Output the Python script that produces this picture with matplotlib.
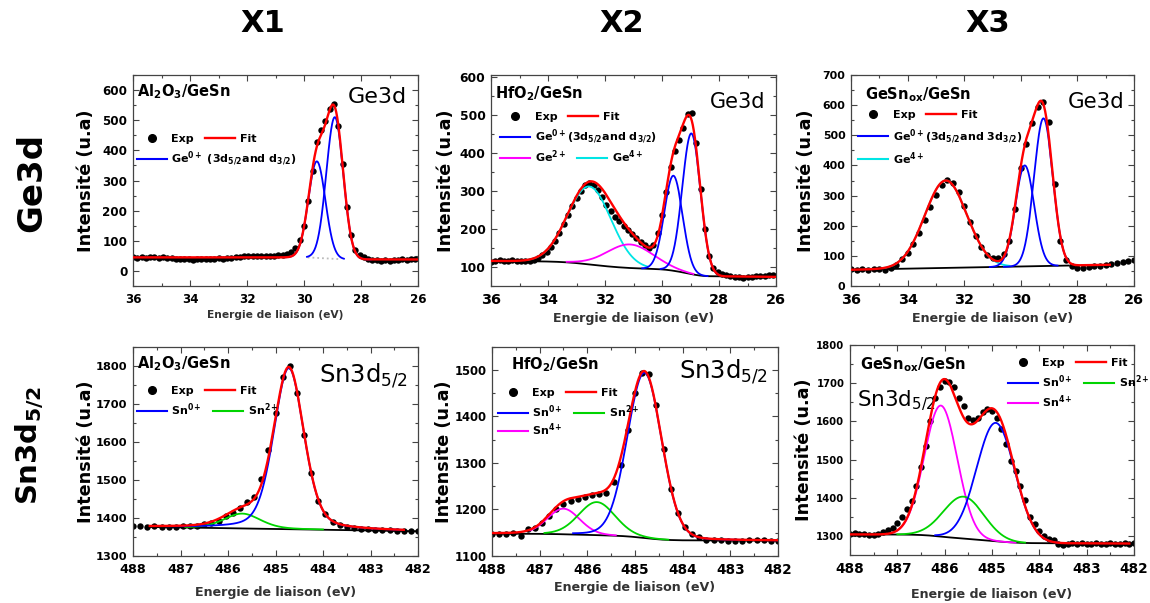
import numpy as np
import matplotlib
matplotlib.use("Agg")
import matplotlib.pyplot as plt
from matplotlib.lines import Line2D
from matplotlib.legend import Legend
from matplotlib.ticker import MultipleLocator

plt.rcParams["font.family"] = "DejaVu Sans"
plt.rcParams["mathtext.fontset"] = "dejavusans"

# ---------------------------------------------------------------------------
# Data
# Exp points: first binding energy, step (towards lower BE), intensities
# Peaks: (species, centre eV, height above background, FWHM eV, drawn from, drawn to)
# Background: (level at high BE, level at low BE, linear share; 0 = Shirley)
# ---------------------------------------------------------------------------

GE_X1_E0, GE_X1_STEP = 36.0, 0.15
GE_X1_EXP = [46, 44, 46, 43, 45, 46, 43, 45, 42, 43, 40, 41, 38, 40, 37, 39, 38,
             40, 39, 41, 42, 41, 44, 43, 45, 47, 48, 50, 49, 51, 50, 49, 51, 50,
             52, 54, 57, 64, 76, 103, 150, 232, 330, 427, 469, 499, 536, 554,
             480, 356, 213, 119, 70, 52, 45, 40, 37, 35, 34, 36, 33, 35, 36, 38,
             37, 39, 40]
GE_X1_PEAKS = [("Ge0+", 29.55, 320, 0.70, 28.6, 30.65),
               ("Ge0+", 28.92, 470, 0.70, 27.65, 29.9)]
GE_X1_BG = (45, 38, 0.0)

GE_X2_E0, GE_X2_STEP = 36.0, 0.15
GE_X2_EXP = [113, 116, 118, 115, 117, 118, 116, 117, 115, 117, 119, 124, 131,
             140, 152, 168, 190, 212, 236, 260, 282, 300, 315, 320, 315, 302,
             285, 262, 246, 232, 220, 208, 197, 186, 176, 167, 158, 150, 158,
             190, 238, 298, 362, 405, 435, 466, 502, 505, 425, 305, 200, 128,
             97, 86, 82, 78, 76, 74, 73, 72, 73, 74, 75, 76, 77, 78, 79]
GE_X2_PEAKS = [("Ge4+", 32.55, 205, 1.80, 30.5, 34.8),
               ("Ge2+", 31.12, 62, 1.90, 28.9, 33.35),
               ("Ge0+", 29.60, 250, 0.75, 28.4, 30.7),
               ("Ge0+", 28.97, 370, 0.75, 28.05, 30.05)]
GE_X2_BG = (116, 74, 0.15)

GE_X3_E0, GE_X3_STEP = 36.0, 0.2
GE_X3_EXP = [55, 53, 56, 52, 55, 58, 54, 60, 70, 88, 108, 138, 176, 218, 262,
             302, 335, 352, 342, 312, 265, 212, 165, 128, 104, 94, 92, 105, 150,
             255, 390, 470, 540, 595, 612, 545, 340, 150, 85, 66, 60, 61, 63,
             66, 68, 70, 73, 76, 79, 82, 85]
GE_X3_PEAKS = [("Ge4+", 32.65, 290, 1.75, 30.4, 34.8),
               ("Ge0+", 29.86, 335, 0.78, 28.7, 31.1),
               ("Ge0+", 29.20, 490, 0.78, 28.3, 30.6)]
GE_X3_BG = (54, 72, 1.0)

SN_X1_E0, SN_X1_STEP = 488.0, 0.15
SN_X1_EXP = [1378, 1378, 1377, 1378, 1376, 1377, 1377, 1378, 1379, 1380, 1383,
             1387, 1393, 1404, 1414, 1427, 1441, 1455, 1503, 1578, 1675, 1770,
             1800, 1728, 1617, 1517, 1445, 1411, 1390, 1381, 1376, 1374, 1371,
             1370, 1369, 1368, 1368, 1367, 1366, 1367, 1366]
SN_X1_PEAKS = [("Sn2+", 485.70, 39, 0.90, 484.0, 486.9),
               ("Sn0+", 484.72, 423, 0.75, 482.3, 487.3)]
SN_X1_BG = (1377, 1365, 1.0)

SN_X2_E0, SN_X2_STEP = 488.0, 0.15
SN_X2_EXP = [1148, 1147, 1148, 1149, 1144, 1158, 1160, 1170, 1185, 1202, 1212,
             1218, 1222, 1227, 1231, 1233, 1236, 1258, 1296, 1370, 1450, 1494,
             1492, 1425, 1330, 1243, 1193, 1163, 1147, 1140, 1135, 1134, 1134,
             1133, 1133, 1133, 1134, 1134, 1135, 1133, 1132]
SN_X2_PEAKS = [("Sn4+", 486.50, 55, 0.80, 485.4, 487.2),
               ("Sn2+", 485.80, 71, 0.90, 484.3, 486.9),
               ("Sn0+", 484.80, 355, 0.85, 482.0, 486.3)]
SN_X2_BG = (1148, 1133, 0.1)

SN_X3_E0, SN_X3_STEP = 488.0, 0.1
SN_X3_EXP = [1306, 1308, 1304, 1305, 1302, 1303, 1306, 1310, 1315, 1322,
             1335, 1350, 1370, 1392, 1430, 1480, 1535, 1600, 1660, 1690,
             1705, 1703, 1690, 1660, 1640, 1610, 1603, 1608, 1625, 1632,
             1628, 1610, 1580, 1540, 1495, 1470, 1430, 1395, 1350, 1330,
             1312, 1300, 1292, 1288, 1280, 1276, 1280, 1282, 1279, 1281,
             1280, 1278, 1282, 1280, 1279, 1281, 1280, 1278, 1282, 1280, 1281]
SN_X3_PEAKS = [("Sn4+", 486.08, 343, 0.82, 484.5, 487.0),
               ("Sn2+", 485.60, 110, 1.00, 484.3, 487.0),
               ("Sn0+", 484.92, 310, 0.95, 483.6, 486.2)]
SN_X3_BG = (1304, 1280, 0.1)

GE_TICKS_X = [36, 34, 32, 30, 28, 26]
SN_TICKS_X = [488, 487, 486, 485, 484, 483, 482]

# ---------------------------------------------------------------------------
# Styling
# ---------------------------------------------------------------------------

COLORS = {"Ge0+": "#0000ff", "Ge2+": "#ff00ff", "Ge4+": "#00e5e5",
          "Sn0+": "#0000ff", "Sn2+": "#00d400", "Sn4+": "#ff00ff"}

GE0_A = r"Ge$^{\mathbf{0+}}$ (3d$_{\mathbf{5/2}}$and d$_{\mathbf{3/2}}$)"
GE0_B = r"Ge$^{\mathbf{0+}}$(3d$_{\mathbf{5/2}}$and d$_{\mathbf{3/2}}$)"
GE0_C = r"Ge$^{\mathbf{0+}}$(3d$_{\mathbf{5/2}}$and 3d$_{\mathbf{3/2}}$)"
SUP = {k: k[:2] + r"$^{\mathbf{" + k[2:] + "}}$" for k in COLORS}

panels = [
    dict(pos=[0.1157, 0.5257, 0.2478, 0.3499], e0=GE_X1_E0, step=GE_X1_STEP,
         exp=GE_X1_EXP, peaks=GE_X1_PEAKS, bg=GE_X1_BG, eta=0.0,
         xlim=(36, 26), ylim=(-50, 650), xt=GE_TICKS_X, ymaj=100, xmin=1,
         fit=(26.0, 36.0), bgr=(28.8, 29.9), bgstyle=dict(color="#bbbbbb", ls=":"),
         title=r"Al$_{\mathbf{2}}$O$_{\mathbf{3}}$/GeSn", tpos=(0.014, 0.92),
         core="Ge3d", cpos=(0.96, 0.897), csize=16, cha="right", cva="center",
         fs=(8.6, 8.6, 7.7), ylx=-0.165, xly=-0.137,
         leg_x=0.014, legs=[(0.697, [("Exp", "Exp"), ("Fit", "Fit")]),
                            (0.602, [("Ge0+", GE0_A)])]),
    dict(pos=[0.427, 0.5257, 0.2478, 0.3499], e0=GE_X2_E0, step=GE_X2_STEP,
         exp=GE_X2_EXP, peaks=GE_X2_PEAKS, bg=GE_X2_BG, eta=0.0,
         xlim=(36, 26), ylim=(50, 605), xt=GE_TICKS_X, ymaj=100, xmin=1,
         fit=(26.0, 36.0), bgr=(26.0, 36.0), bgstyle=dict(color="black", ls="-"),
         title=r"HfO$_{\mathbf{2}}$/GeSn", tpos=(0.014, 0.913),
         core="Ge3d", cpos=(0.961, 0.872), csize=15, cha="right", cva="center",
         fs=(8.9, 10.4, 9.1), ylx=-0.158, xly=-0.152,
         leg_x=0.032, legs=[(0.802, [("Exp", "Exp"), ("Fit", "Fit")]),
                            (0.707, [("Ge0+", GE0_B)]),
                            (0.613, [("Ge2+", SUP["Ge2+"]), ("Ge4+", SUP["Ge4+"])])]),
    dict(pos=[0.74, 0.5257, 0.2461, 0.3499], e0=GE_X3_E0, step=GE_X3_STEP,
         exp=GE_X3_EXP, peaks=GE_X3_PEAKS, bg=GE_X3_BG, eta=0.0,
         xlim=(36, 26), ylim=(0, 700), xt=GE_TICKS_X, ymaj=100, xmin=1,
         fit=(26.85, 36.0), bgr=(28.3, 36.0), bgstyle=dict(color="black", ls="-"),
         title=r"GeSn$_{\mathbf{ox}}$/GeSn", tpos=(0.05, 0.905),
         core="Ge3d", cpos=(0.968, 0.873), csize=15.4, cha="right", cva="center",
         fs=(7.9, 10.4, 9.1), ylx=-0.159, xly=-0.152,
         leg_x=0.025, legs=[(0.81, [("Exp", "Exp"), ("Fit", "Fit")]),
                            (0.708, [("Ge0+", GE0_C)]),
                            (0.605, [("Ge4+", SUP["Ge4+"])])]),
    dict(pos=[0.1157, 0.0779, 0.2478, 0.3474], e0=SN_X1_E0, step=SN_X1_STEP,
         exp=SN_X1_EXP, peaks=SN_X1_PEAKS, bg=SN_X1_BG, eta=0.3,
         xlim=(488, 482), ylim=(1300, 1850), xt=SN_TICKS_X, ymaj=100, xmin=0.5,
         fit=(482.3, 487.65), bgr=(482.05, 487.65), bgstyle=dict(color="black", ls="-"),
         title=r"Al$_{\mathbf{2}}$O$_{\mathbf{3}}$/GeSn", tpos=(0.014, 0.92),
         core=r"Sn3d$_{\mathregular{5/2}}$", cpos=(0.965, 0.83), csize=17.5,
         cha="right", cva="baseline",
         fs=(8.2, 9.2, 9.1), ylx=-0.165, xly=-0.176,
         leg_x=0.014, legs=[(0.79, [("Exp", "Exp"), ("Fit", "Fit")]),
                            (0.699, [("Sn0+", SUP["Sn0+"]), ("Sn2+", SUP["Sn2+"])])]),
    dict(pos=[0.4278, 0.0779, 0.2487, 0.3474], e0=SN_X2_E0, step=SN_X2_STEP,
         exp=SN_X2_EXP, peaks=SN_X2_PEAKS, bg=SN_X2_BG, eta=0.1,
         xlim=(488, 482), ylim=(1100, 1550), xt=SN_TICKS_X, ymaj=100, xmin=0.5,
         fit=(482.0, 488.0), bgr=(482.0, 488.0), bgstyle=dict(color="black", ls="-"),
         title=r"HfO$_{\mathbf{2}}$/GeSn", tpos=(0.066, 0.914),
         core=r"Sn3d$_{\mathregular{5/2}}$", cpos=(0.965, 0.848), csize=17.5,
         cha="right", cva="baseline",
         fs=(8.4, 9.8, 9.1), ylx=-0.166, xly=-0.152, ylab="Intensite (u.a)",
         leg_x=0.021, legs=[(0.78, [("Exp", "Exp"), ("Fit", "Fit")]),
                            (0.687, [("Sn0+", SUP["Sn0+"]), ("Sn2+", SUP["Sn2+"])]),
                            (0.603, [("Sn4+", SUP["Sn4+"])])]),
    dict(pos=[0.7391, 0.0796, 0.247, 0.3483], e0=SN_X3_E0, step=SN_X3_STEP,
         exp=SN_X3_EXP, peaks=SN_X3_PEAKS, bg=SN_X3_BG, eta=0.0,
         xlim=(488, 482), ylim=(1250, 1800), xt=SN_TICKS_X, ymaj=100, xmin=0.5,
         fit=(482.1, 488.0), bgr=(483.35, 488.0), bgstyle=dict(color="black", ls="-"),
         title=r"GeSn$_{\mathbf{ox}}$/GeSn", tpos=(0.035, 0.905),
         core=r"Sn3d$_{\mathregular{5/2}}$", cpos=(0.024, 0.706), csize=15.5,
         cha="left", cva="baseline",
         fs=(7.3, 9.8, 9.1), ylx=-0.162, xly=-0.19,
         leg_x=0.556, legs=[(0.916, [("Exp", "Exp"), ("Fit", "Fit")]),
                            (0.825, [("Sn0+", SUP["Sn0+"]), ("Sn2+", SUP["Sn2+"])]),
                            (0.73, [("Sn4+", SUP["Sn4+"])])]),
]


def peak(x, c, h, w, eta):
    u = ((x - c) / w) ** 2
    return h * ((1 - eta) * np.exp(-4 * np.log(2) * u) + eta / (1 + 4 * u))


fig = plt.figure(figsize=(11.5, 6.03), dpi=100)

for p in panels:
    ax = fig.add_axes(p["pos"])
    lo, hi = min(p["xlim"]), max(p["xlim"])
    x = np.linspace(lo, hi, 1500)

    comps = [peak(x, c, h, w, p["eta"]) for _, c, h, w, _, _ in p["peaks"]]
    total = np.sum(comps, axis=0)
    shirley = np.cumsum(total)
    shirley /= shirley[-1]
    lin = (x - lo) / (hi - lo)
    b_hi, b_lo, m = p["bg"]
    bg = b_lo + (b_hi - b_lo) * ((1 - m) * shirley + m * lin)

    # experimental points
    e = p["e0"] - p["step"] * np.arange(len(p["exp"]))
    ax.plot(e, p["exp"], "o", color="black", ms=4.6, mew=0, zorder=2)

    # background
    mask = (x >= p["bgr"][0]) & (x <= p["bgr"][1])
    ax.plot(x[mask], bg[mask], lw=1.3, zorder=3, **p["bgstyle"])

    # components
    for (sp, c, h, w, a, b), comp in zip(p["peaks"], comps):
        mask = (x >= a) & (x <= b)
        ax.plot(x[mask], bg[mask] + comp[mask], color=COLORS[sp], lw=1.3, zorder=4)

    # fit envelope
    mask = (x >= p["fit"][0]) & (x <= p["fit"][1])
    ax.plot(x[mask], bg[mask] + total[mask], color="#ff0000", lw=1.7, zorder=5)

    ax.set_xlim(*p["xlim"])
    ax.set_xticks(p["xt"])
    ax.xaxis.set_minor_locator(MultipleLocator(p["xmin"]))
    ax.yaxis.set_major_locator(MultipleLocator(p["ymaj"]))
    ax.yaxis.set_minor_locator(MultipleLocator(p["ymaj"] / 2))
    ax.set_ylim(*p["ylim"])

    fy, fx, fl = p["fs"]
    ax.tick_params(which="both", direction="in", top=True, right=True,
                   color="#444444", width=0.8)
    ax.tick_params(which="major", length=4)
    ax.tick_params(which="minor", length=2.2)
    ax.tick_params(axis="x", pad=5, labelsize=fx)
    ax.tick_params(axis="y", pad=4, labelsize=fy)
    for lab in ax.get_xticklabels() + ax.get_yticklabels():
        lab.set_fontweight("bold")
    for s in ax.spines.values():
        s.set_color("#444444")
        s.set_linewidth(0.9)

    ax.set_ylabel(p.get("ylab", "Intensité (u.a)"), fontsize=12.7,
                  fontweight="bold", va="center")
    ax.yaxis.set_label_coords(p["ylx"], 0.5)
    ax.set_xlabel("Energie de liaison (eV)", fontsize=fl, fontweight="bold",
                  color="#333333", va="center")
    ax.xaxis.set_label_coords(0.5, p["xly"])

    ax.text(*p["tpos"], p["title"], transform=ax.transAxes, fontsize=10.5,
            fontweight="bold", ha="left", va="center")
    ax.text(*p["cpos"], p["core"], transform=ax.transAxes, fontsize=p["csize"],
            ha=p["cha"], va=p["cva"])

    # legend rows
    for y, entries in p["legs"]:
        handles, labels = [], []
        for key, text in entries:
            if key == "Exp":
                handles.append(Line2D([], [], ls="none", marker="o", ms=5.5,
                                      color="black"))
            elif key == "Fit":
                handles.append(Line2D([], [], color="#ff0000", lw=1.7))
            else:
                handles.append(Line2D([], [], color=COLORS[key], lw=1.5))
            labels.append(text)
        leg = Legend(ax, handles, labels, loc="center left", bbox_to_anchor=(p["leg_x"], y),
                     ncol=len(handles), frameon=False, handlelength=2.7,
                     handletextpad=0.4, columnspacing=1.0, borderpad=0,
                     borderaxespad=0, numpoints=1,
                     prop={"weight": "bold", "size": 8})
        ax.add_artist(leg)

# column and row titles
for xc, t in [(263, "X1"), (622, "X2"), (988, "X3")]:
    fig.text(xc / 1150, 1 - 24 / 603, t, fontsize=22, fontweight="bold",
             ha="center", va="center")
fig.text(32 / 1150, 1 - 182 / 603, "Ge3d", rotation=90, fontsize=24.5,
         fontweight="bold", ha="center", va="center")
fig.text(30 / 1150, 1 - 446 / 603, r"Sn3d$_{\mathbf{5/2}}$", rotation=90,
         fontsize=21, fontweight="bold", ha="center", va="center")

fig.savefig("out.png", dpi=100, facecolor="white")
